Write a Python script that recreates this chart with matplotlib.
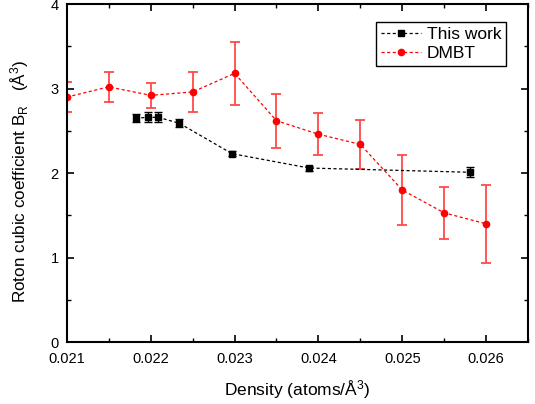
import matplotlib
matplotlib.use("Agg")
import matplotlib.pyplot as plt
from matplotlib.ticker import MultipleLocator, FuncFormatter

plt.rcParams['font.family'] = ['Liberation Sans', 'DejaVu Sans']
plt.rcParams['mathtext.fontset'] = 'custom'
plt.rcParams['mathtext.rm'] = 'Liberation Sans'
plt.rcParams['mathtext.it'] = 'Liberation Sans'

work_x = [0.02182, 0.02197, 0.02209, 0.02234, 0.02297, 0.02389, 0.02581]
work_y = [2.65, 2.66, 2.66, 2.59, 2.23, 2.06, 2.01]
work_err = [0.05, 0.06, 0.06, 0.045, 0.03, 0.03, 0.06]

dmbt_x = [0.021, 0.0215, 0.022, 0.0225, 0.023, 0.0235, 0.024, 0.0245, 0.025, 0.0255, 0.026]
dmbt_y = [2.90, 3.02, 2.92, 2.96, 3.18, 2.62, 2.46, 2.34, 1.80, 1.53, 1.40]
dmbt_err = [0.18, 0.18, 0.15, 0.24, 0.37, 0.32, 0.25, 0.29, 0.41, 0.31, 0.46]

fig = plt.figure(figsize=(5.35, 4.04), dpi=100)
ax = fig.add_axes([0.125, 0.153, 0.862, 0.837])

# error bars
ax.errorbar(dmbt_x, dmbt_y, yerr=dmbt_err, fmt='none', ecolor='#ff4a4a',
            elinewidth=1.3, capsize=3.5, capthick=1.3, zorder=2)
ax.errorbar(work_x, work_y, yerr=work_err, fmt='none', ecolor='black',
            elinewidth=1.0, capsize=3, capthick=1.0, zorder=3)
# lines + markers
ax.plot(dmbt_x, dmbt_y, marker='o', ls='--', color='red', ms=4.5, lw=0.9,
        dashes=(2.5, 2), label='DMBT', zorder=2.5)
ax.plot(work_x, work_y, marker='s', ls='--', color='black', ms=4.5, lw=0.9,
        dashes=(2.5, 2), label='This work', zorder=3.5)

ax.set_xlim(0.021, 0.0265)
ax.set_ylim(0, 4)
ax.xaxis.set_major_locator(MultipleLocator(0.001))
ax.xaxis.set_minor_locator(MultipleLocator(0.0005))
ax.yaxis.set_major_locator(MultipleLocator(1))
ax.yaxis.set_minor_locator(MultipleLocator(0.5))
ax.xaxis.set_major_formatter(FuncFormatter(lambda v, p: f"{v:.3f}"))
ax.tick_params(which='both', direction='in', top=True, right=True, labelsize=10.5)
ax.tick_params(axis='x', which='major', pad=7)
ax.tick_params(axis='y', which='major', pad=6)
ax.tick_params(which='major', length=5, width=1.2)
ax.tick_params(which='minor', length=3, width=1.0)
for s in ax.spines.values():
    s.set_linewidth(1.5)

ax.set_xlabel('Density (atoms/Å$^3$)', fontsize=12.5, labelpad=9)
ax.set_ylabel('Roton cubic coefficient B$_R$   (Å$^3$)', fontsize=12.3)
ax.yaxis.set_label_coords(-0.078, 0.475)

handles, labels = ax.get_legend_handles_labels()
leg = ax.legend(handles[::-1], labels[::-1], loc='upper right',
                bbox_to_anchor=(0.953, 0.947), borderaxespad=0, fontsize=12.5,
                fancybox=False, framealpha=1, edgecolor='black',
                handlelength=2.3, borderpad=0.3, labelspacing=0.2,
                handletextpad=0.3)
leg.get_frame().set_linewidth(1.0)

fig.savefig('out.png', dpi=100)
